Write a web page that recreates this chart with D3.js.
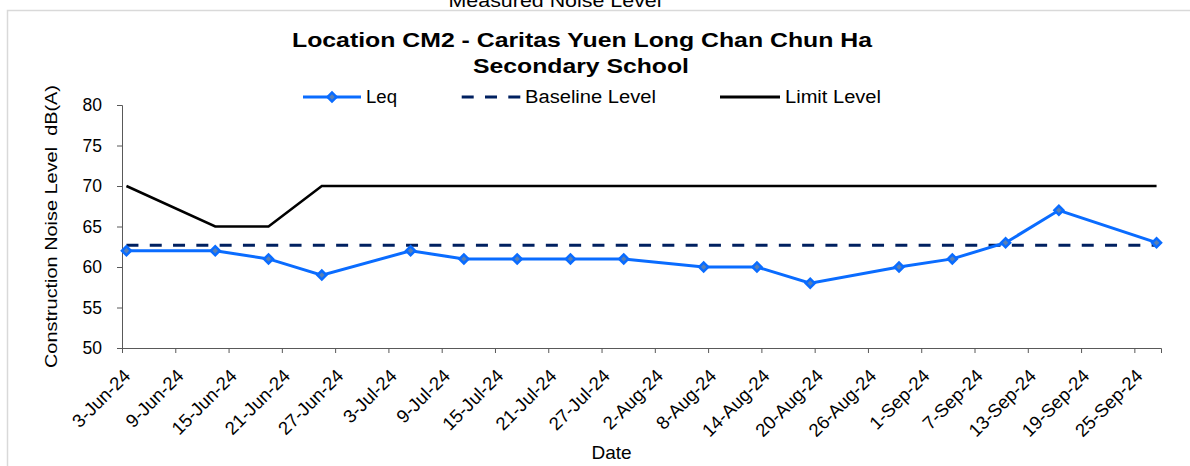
<!DOCTYPE html>
<html>
<head>
<meta charset="utf-8">
<script src="https://cdn.jsdelivr.net/npm/d3@7"></script>
<style>
  body { margin: 0; background: #fff; }
  text { font-family: "Liberation Sans", Arial, sans-serif; fill: #000; }
</style>
</head>
<body>
<div id="chart"></div>
<script>
// measurement dates and values
var dates = ['3-Jun-24', '13-Jun-24', '19-Jun-24', '25-Jun-24', '5-Jul-24', '11-Jul-24',
  '17-Jul-24', '23-Jul-24', '29-Jul-24', '7-Aug-24', '13-Aug-24', '19-Aug-24',
  '29-Aug-24', '4-Sep-24', '10-Sep-24', '16-Sep-24', '27-Sep-24'];
var leq = [62, 62, 61, 59, 62, 61, 61, 61, 61, 60, 60, 58, 60, 61, 63, 67, 63];
var limit = [70, 65, 65, 70, 70, 70, 70, 70, 70, 70, 70, 70, 70, 70, 70, 70, 70];
var baseline = [62.7, 62.7, 62.7, 62.7, 62.7, 62.7, 62.7, 62.7, 62.7, 62.7, 62.7, 62.7,
  62.7, 62.7, 62.7, 62.7, 62.7];

var xTicks = ['3-Jun-24', '9-Jun-24', '15-Jun-24', '21-Jun-24', '27-Jun-24', '3-Jul-24',
  '9-Jul-24', '15-Jul-24', '21-Jul-24', '27-Jul-24', '2-Aug-24', '8-Aug-24', '14-Aug-24',
  '20-Aug-24', '26-Aug-24', '1-Sep-24', '7-Sep-24', '13-Sep-24', '19-Sep-24', '25-Sep-24'];
var yTicks = [50, 55, 60, 65, 70, 75, 80];
var xDomain = ['3-Jun-24', '28-Sep-24'];

var width = 1190,
  height = 466,
  margin = { top: 105, right: 29, bottom: 118, left: 122 };

var parse = d3.utcParse('%-d-%b-%y');

var svg = d3.select('#chart').append('svg')
  .attr('width', width)
  .attr('height', height);

// chart frame
svg.append('rect')
  .attr('x', 7.5).attr('y', 10.5)
  .attr('width', 1300).attr('height', 600)
  .attr('fill', '#fff')
  .attr('stroke', '#d9d9d9')
  .attr('stroke-width', 1.5);

svg.append('text')
  .attr('x', 555).attr('y', 7)
  .attr('text-anchor', 'middle')
  .attr('textLength', 213)
  .attr('lengthAdjust', 'spacingAndGlyphs')
  .style('font-size', '19px')
  .text('Measured Noise Level');

var x = d3.scaleUtc()
  .domain(xDomain.map(parse))
  .range([margin.left, width - margin.right]);

var y = d3.scaleLinear()
  .domain([50, 80])
  .range([height - margin.bottom, margin.top]);

// points sit in the middle of their day (between tick marks)
function px(d) { return x(d3.utcHour.offset(parse(d), 12)); }

// title
svg.append('text')
  .attr('x', 582).attr('y', 46.5)
  .attr('text-anchor', 'middle')
  .attr('textLength', 580)
  .attr('lengthAdjust', 'spacingAndGlyphs')
  .style('font-size', '19.5px')
  .style('font-weight', 'bold')
  .text('Location CM2 - Caritas Yuen Long Chan Chun Ha');
svg.append('text')
  .attr('x', 581).attr('y', 72.5)
  .attr('text-anchor', 'middle')
  .attr('textLength', 216)
  .attr('lengthAdjust', 'spacingAndGlyphs')
  .style('font-size', '19.5px')
  .style('font-weight', 'bold')
  .text('Secondary School');

// axes
var yAxis = svg.append('g')
  .attr('transform', 'translate(' + margin.left + ',0)')
  .call(d3.axisLeft(y).tickValues(yTicks).tickSize(5).tickPadding(15));
yAxis.selectAll('text').style('font-size', '17.5px');

var xAxis = svg.append('g')
  .attr('transform', 'translate(0,' + (height - margin.bottom) + ')')
  .call(d3.axisBottom(x).tickValues(xTicks.map(parse)).tickSize(5)
    .tickFormat(function (d, i) { return xTicks[i]; }));
xAxis.selectAll('text')
  .style('font-size', '18.5px')
  .attr('text-anchor', 'end')
  .attr('x', 0).attr('y', 0).attr('dy', 0)
  .attr('transform', 'translate(9,29) rotate(-45)');

svg.selectAll('.domain, .tick line').attr('stroke', '#595959');

svg.append('text')
  .attr('transform', 'translate(56.5,226.5) rotate(-90)')
  .attr('text-anchor', 'middle')
  .attr('textLength', 283)
  .attr('lengthAdjust', 'spacingAndGlyphs')
  .style('font-size', '17px')
  .style('white-space', 'pre')
  .text('Construction Noise Level  dB(A)');

svg.append('text')
  .attr('x', 611.5).attr('y', 459)
  .attr('text-anchor', 'middle')
  .style('font-size', '19px')
  .text('Date');

// series
var line = function (vals) {
  return d3.line()
    .x(function (d, i) { return px(dates[i]); })
    .y(function (d) { return y(d); })(vals);
};

svg.append('path')
  .attr('d', line(baseline))
  .attr('fill', 'none')
  .attr('stroke', '#002060')
  .attr('stroke-width', 3)
  .attr('stroke-dasharray', '12,11.3');

svg.append('path')
  .attr('d', line(limit))
  .attr('fill', 'none')
  .attr('stroke', '#000')
  .attr('stroke-width', 2.5);

svg.append('path')
  .attr('d', line(leq))
  .attr('fill', 'none')
  .attr('stroke', '#0a6cff')
  .attr('stroke-width', 3);

var diamond = d3.symbol().type(d3.symbolSquare).size(40);
svg.selectAll('.marker')
  .data(leq)
  .enter()
  .append('path')
  .attr('class', 'marker')
  .attr('d', diamond)
  .attr('transform', function (d, i) {
    return 'translate(' + px(dates[i]) + ',' + y(d) + ') rotate(45)';
  })
  .attr('fill', '#5a80b4')
  .attr('stroke', '#0a6cff')
  .attr('stroke-width', 2.5);

// legend
var legend = svg.append('g');
legend.append('line')
  .attr('x1', 303).attr('x2', 361).attr('y1', 97).attr('y2', 97)
  .attr('stroke', '#0a6cff').attr('stroke-width', 3);
legend.append('path')
  .attr('d', diamond)
  .attr('transform', 'translate(332,97) rotate(45)')
  .attr('fill', '#5a80b4')
  .attr('stroke', '#0a6cff')
  .attr('stroke-width', 2.5);
legend.append('text').attr('x', 366).attr('y', 97).attr('dy', '0.35em')
  .attr('textLength', 31).attr('lengthAdjust', 'spacingAndGlyphs')
  .style('font-size', '18px').text('Leq');

legend.append('line')
  .attr('x1', 461.7).attr('x2', 520.3).attr('y1', 97).attr('y2', 97)
  .attr('stroke', '#002060').attr('stroke-width', 3)
  .attr('stroke-dasharray', '12,11.3');
legend.append('text').attr('x', 525).attr('y', 97).attr('dy', '0.35em')
  .attr('textLength', 131).attr('lengthAdjust', 'spacingAndGlyphs')
  .style('font-size', '18px').text('Baseline Level');

legend.append('line')
  .attr('x1', 720).attr('x2', 780).attr('y1', 97).attr('y2', 97)
  .attr('stroke', '#000').attr('stroke-width', 3);
legend.append('text').attr('x', 785).attr('y', 97).attr('dy', '0.35em')
  .attr('textLength', 96).attr('lengthAdjust', 'spacingAndGlyphs')
  .style('font-size', '18px').text('Limit Level');
</script>
</body>
</html>
